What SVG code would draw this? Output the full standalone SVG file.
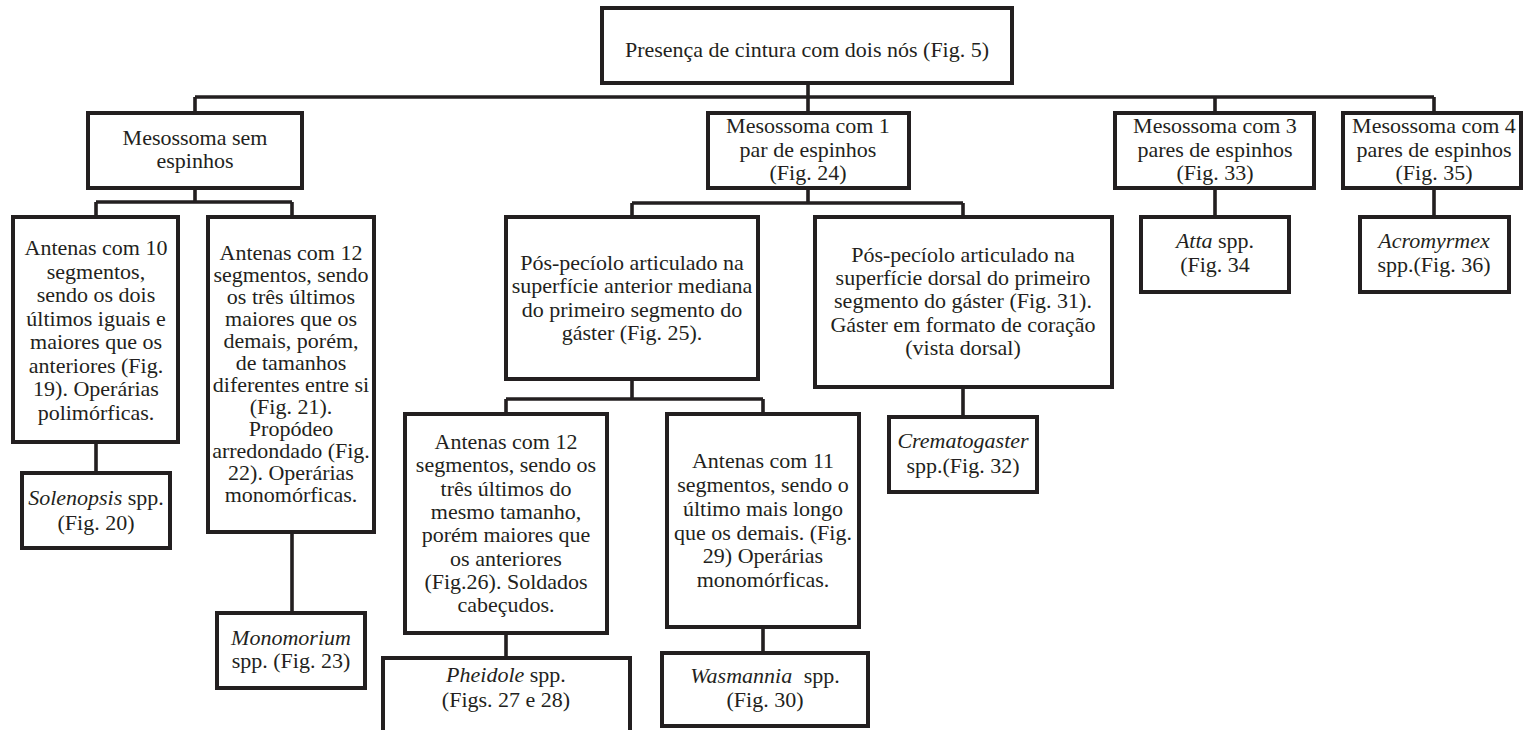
<svg xmlns="http://www.w3.org/2000/svg" width="1526" height="730" viewBox="0 0 1526 730">
<style>
.box{fill:#fff;stroke:#231f20;stroke-width:4}
.ln{fill:none;stroke:#231f20;stroke-width:3.6}
text{font-size:22px;fill:#231f20;text-anchor:middle}
.i{font-style:italic}
</style>
<rect width="1526" height="730" fill="#fff"/>
<g id="connectors">
<path class="ln" d="M808 83V113M195 97H1434M195 97V113M1215 97V113M1434 97V113"/>
<path class="ln" d="M195 188V202M96 202H292M96 202V217M292 202V217"/>
<path class="ln" d="M96 442V473M292 532V613"/>
<path class="ln" d="M808 188V203M632 203H963M632 203V217M963 203V217"/>
<path class="ln" d="M632 379V399M506 399H763M506 399V414M763 399V414"/>
<path class="ln" d="M506 633V658M763 627V653M963 387V417"/>
<path class="ln" d="M1215 188V217M1434 188V217"/>
</g>
<g font-family="Liberation Serif, Times New Roman, DejaVu Serif, serif">
<g id="root"><rect class="box" x="602" y="8" width="410" height="75"/><text x="807" y="57">Presença de cintura com dois nós (Fig. 5)</text></g>
<g id="sem"><rect class="box" x="88" y="113" width="214" height="75"/><text x="195" y="145">Mesossoma sem</text><text x="195" y="168">espinhos</text></g>
<g id="com1"><rect class="box" x="708" y="113" width="201" height="75"/><text x="808" y="133">Mesossoma com 1</text><text x="808" y="157">par de espinhos</text><text x="808" y="180">(Fig. 24)</text></g>
<g id="com3"><rect class="box" x="1115" y="113" width="199" height="75"/><text x="1215" y="133">Mesossoma com 3</text><text x="1215" y="157">pares de espinhos</text><text x="1215" y="180">(Fig. 33)</text></g>
<g id="com4"><rect class="box" x="1343" y="113" width="178" height="75"/><text x="1434" y="133">Mesossoma com 4</text><text x="1434" y="157">pares de espinhos</text><text x="1434" y="180">(Fig. 35)</text></g>
<g id="ant10"><rect class="box" x="13" y="217" width="165" height="225"/>
<text x="96" y="255">Antenas com 10</text><text x="96" y="278.5">segmentos,</text><text x="96" y="302">sendo os dois</text><text x="96" y="325.5">últimos iguais e</text><text x="96" y="349">maiores que os</text><text x="96" y="372.5">anteriores (Fig.</text><text x="96" y="396">19). Operárias</text><text x="96" y="419.5">polimórficas.</text></g>
<g id="ant12a"><rect class="box" x="208" y="217" width="166" height="315"/>
<text x="291" y="260">Antenas com 12</text><text x="291" y="282">segmentos, sendo</text><text x="291" y="304">os três últimos</text><text x="291" y="326">maiores que os</text><text x="291" y="348">demais, porém,</text><text x="291" y="370">de tamanhos</text><text x="291" y="392">diferentes entre si</text><text x="291" y="414">(Fig. 21).</text><text x="291" y="436">Propódeo</text><text x="291" y="458">arredondado (Fig.</text><text x="291" y="480">22). Operárias</text><text x="291" y="502">monomórficas.</text></g>
<g id="solenopsis"><rect class="box" x="22" y="473" width="148" height="75"/><text x="96" y="505"><tspan class="i">Solenopsis</tspan> spp.</text><text x="96" y="530">(Fig. 20)</text></g>
<g id="monomorium"><rect class="box" x="217" y="613" width="148" height="75"/><text x="291" y="645" class="i">Monomorium</text><text x="291" y="668">spp. (Fig. 23)</text></g>
<g id="posant"><rect class="box" x="506" y="217" width="252" height="162"/><text x="632" y="270">Pós-pecíolo articulado na</text><text x="632" y="293">superfície anterior mediana</text><text x="632" y="317">do primeiro segmento do</text><text x="632" y="340">gáster (Fig. 25).</text></g>
<g id="posdor"><rect class="box" x="815" y="217" width="297" height="170"/><text x="963" y="262">Pós-pecíolo articulado na</text><text x="963" y="285">superfície dorsal do primeiro</text><text x="963" y="308">segmento do gáster (Fig. 31).</text><text x="963" y="332">Gáster em formato de coração</text><text x="963" y="355">(vista dorsal)</text></g>
<g id="crematogaster"><rect class="box" x="889" y="417" width="148" height="75"/><text x="963" y="448" class="i">Crematogaster</text><text x="963" y="473">spp.(Fig. 32)</text></g>
<g id="ant12b"><rect class="box" x="405" y="414" width="202" height="219"/>
<text x="506" y="449">Antenas com 12</text><text x="506" y="472">segmentos, sendo os</text><text x="506" y="495.5">três últimos do</text><text x="506" y="519">mesmo tamanho,</text><text x="506" y="542">porém maiores que</text><text x="506" y="565.5">os anteriores</text><text x="506" y="589">(Fig.26). Soldados</text><text x="506" y="612">cabeçudos.</text></g>
<g id="ant11"><rect class="box" x="667" y="414" width="192" height="213"/>
<text x="763" y="468">Antenas com 11</text><text x="763" y="492">segmentos, sendo o</text><text x="763" y="516">último mais longo</text><text x="763" y="540">que os demais. (Fig.</text><text x="763" y="563">29) Operárias</text><text x="763" y="587">monomórficas.</text></g>
<g id="pheidole"><rect class="box" x="383" y="658" width="247" height="90"/><text x="506" y="682"><tspan class="i">Pheidole</tspan> spp.</text><text x="506" y="707">(Figs. 27 e 28)</text></g>
<g id="wasmannia"><rect class="box" x="662" y="653" width="206" height="73"/><text x="765" y="683"><tspan class="i">Wasmannia</tspan><tspan dx="6"> spp.</tspan></text><text x="765" y="707">(Fig. 30)</text></g>
<g id="atta"><rect class="box" x="1141" y="217" width="148" height="75"/><text x="1215" y="248"><tspan class="i">Atta</tspan> spp.</text><text x="1215" y="272">(Fig. 34</text></g>
<g id="acromyrmex"><rect class="box" x="1360" y="217" width="149" height="75"/><text x="1434" y="248" class="i">Acromyrmex</text><text x="1434" y="272">spp.(Fig. 36)</text></g>
</g>
</svg>
